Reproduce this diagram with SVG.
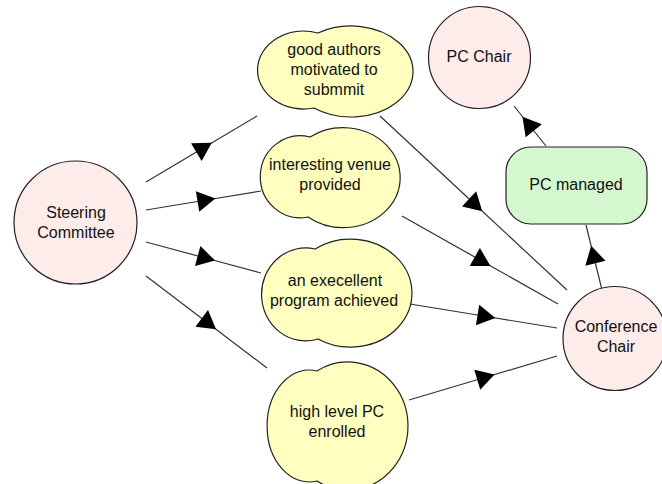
<svg xmlns="http://www.w3.org/2000/svg" width="662" height="484" viewBox="0 0 662 484">
<defs>
<style>
.bg{fill:#ffffff}
.actor{fill:#fdecea;stroke:#222;stroke-width:1.2}
.goal{fill:#ffffc0;stroke:#222;stroke-width:1.2}
.task{fill:#d4f7d0;stroke:#222;stroke-width:1.2}
.lbl{font-family:"Liberation Sans",Arial,sans-serif;font-size:16px;fill:#111;text-anchor:middle}
.conn{fill:none;stroke:#333;stroke-width:1.2;marker-mid:url(#tri)}
</style>
<marker id="tri" viewBox="-13 -13 26 26" markerWidth="26" markerHeight="26" refX="0" refY="0" orient="auto" markerUnits="userSpaceOnUse">
<path d="M12,0 L-6,10.39 L-6,-10.39 Z" fill="#000"/>
</marker>
</defs>
<rect class="bg" x="0" y="0" width="662" height="484"/>

<g id="connectors">
<path class="conn" d="M146,182 L201.5,149 L257,116"/>
<path class="conn" d="M146,210 L203.5,200.5 L261,191"/>
<path class="conn" d="M146,242 L203.5,257.5 L261,273"/>
<path class="conn" d="M146,276 L206.5,322 L267,368"/>
<path class="conn" d="M380,116 L473.5,203 L567,290"/>
<path class="conn" d="M402,216 L480,260 L558,304"/>
<path class="conn" d="M410,304 L483.5,316 L557,328"/>
<path class="conn" d="M409,400 L483,378 L557,356"/>
<path class="conn" d="M602,290 L594,257.5 L586,225"/>
<path class="conn" d="M546,146 L530,126 L514,106"/>
</g>

<g id="steering-committee">
<circle class="actor" cx="75.5" cy="222.5" r="61.5"/>
<text class="lbl" x="76" y="217.5">Steering</text>
<text class="lbl" x="76" y="237.5">Committee</text>
</g>

<g id="pc-chair">
<circle class="actor" cx="479.5" cy="57.5" r="51"/>
<text class="lbl" x="479" y="62">PC Chair</text>
</g>

<g id="conference-chair">
<circle class="actor" cx="615" cy="338.5" r="52"/>
<text class="lbl" x="616" y="332">Conference</text>
<text class="lbl" x="616" y="352">Chair</text>
</g>

<g id="pc-managed">
<rect class="task" x="506" y="147" width="141" height="77" rx="25" ry="25"/>
<text class="lbl" x="576" y="190">PC managed</text>
</g>

<g id="good-authors">
<path class="goal" d="M318,33 A62,45.5 0 1 1 314,108 A46,39 0 1 1 318,33 Z"/>
<text class="lbl" x="334" y="54.5">good authors</text>
<text class="lbl" x="334" y="74.5">motivated to</text>
<text class="lbl" x="334" y="94.5">submmit</text>
</g>

<g id="interesting-venue">
<path class="goal" d="M310,137 A57,50 0 1 1 308,217 A40,41 0 1 1 310,137 Z"/>
<text class="lbl" x="330" y="170">interesting venue</text>
<text class="lbl" x="330" y="190">provided</text>
</g>

<g id="excellent-program">
<path class="goal" d="M315,249 A61.5,54 0 1 1 318,339 A44,46.5 0 1 1 315,249 Z"/>
<text class="lbl" x="335" y="286">an execellent</text>
<text class="lbl" x="334" y="306">program achieved</text>
</g>

<g id="high-level-pc">
<path class="goal" d="M317,371 A60.2,64 0 1 1 317,481 A42,56 0 1 1 317,371 Z"/>
<text class="lbl" x="337" y="417">high level PC</text>
<text class="lbl" x="337" y="437">enrolled</text>
</g>
</svg>
